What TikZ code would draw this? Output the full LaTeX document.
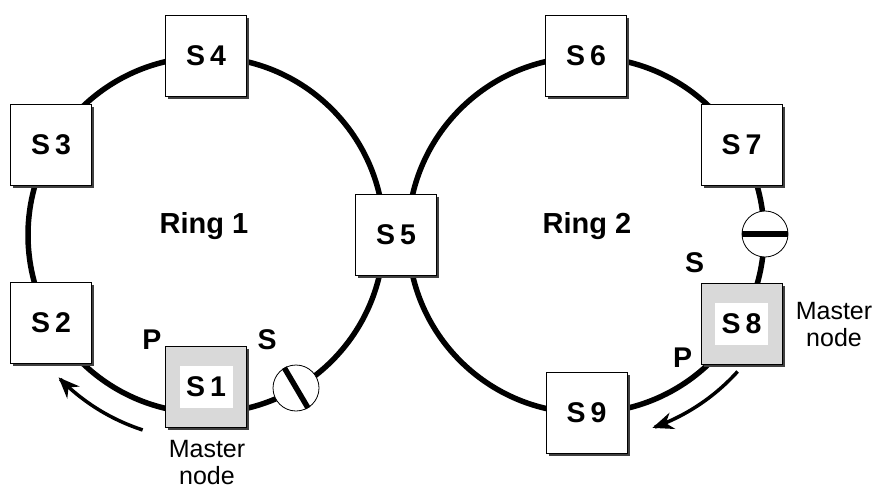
\documentclass[tikz,border=0pt]{standalone}
\usepackage{fontspec}
\setmainfont{Liberation Sans}
\usetikzlibrary{shadows,arrows.meta}
\begin{document}
\begin{tikzpicture}[x=1pt,y=-1pt,
  ring/.style={line width=5.5pt},
  swbox/.style={draw=black, line width=0.8pt, fill=white, minimum width=81pt, minimum height=81pt, inner sep=0pt,
    font=\fontsize{28.5}{30}\selectfont\bfseries,
    drop shadow={shadow xshift=2.5pt, shadow yshift=-2.5pt, fill=black!75, opacity=1}},
  masterbox/.style={swbox, fill=black!15},
  masterlabel/.style={fill=white, minimum width=53pt, minimum height=42pt, inner sep=0pt, font=\fontsize{28.5}{30}\selectfont\bfseries},
  portlabel/.style={font=\fontsize{28.5}{30}\selectfont\bfseries, inner sep=0pt},
  ringlabel/.style={font=\fontsize{29}{32}\selectfont\bfseries, inner sep=0pt},
  note/.style={font=\fontsize{25}{27}\selectfont, align=center, inner sep=0pt},
  blocker/.style={circle, draw=black, line width=0.8pt, fill=white, minimum size=46pt, inner sep=0pt},
  bar/.style={line width=5.5pt},
  flow/.style={line width=3.5pt, -{Stealth[length=21pt,width=17pt]}}
]
\useasboundingbox (0,0) rectangle (877,489);
% rings
\coordinate (c1) at (206,235);
\coordinate (c2) at (586,235);
\draw[ring] (c1) circle[radius=178pt];
\draw[ring] (c2) circle[radius=178pt];
% blocked ports
\node[blocker] (b1) at (296,388) {};
\draw[bar] (b1.120.5) -- (b1.-59.5);
\node[blocker] (b2) at (765,234) {};
\draw[bar] (b2.west) -- (b2.east);
% direction arrows
\draw[flow] plot[domain=108:136, samples=40] ({206+205*cos(\x)},{235+205*sin(\x)});
\draw[flow] plot[domain=42:71, samples=40] ({586+204*cos(\x)},{235+204*sin(\x)});
% switches
\node[swbox] (s4) at (206,56) {S\kern5pt4};
\node[swbox] (s3) at (51,145) {S\kern5pt3};
\node[swbox] (s2) at (51,323) {S\kern5pt2};
\node[masterbox] (s1) at (206,387) {};
\node[masterlabel] (s1t) at (s1.center) {S\kern5pt1};
\node[swbox] (s5) at (396,234.5) {S\kern5pt5};
\node[swbox] (s6) at (586,56) {S\kern5pt6};
\node[swbox] (s7) at (741.5,145) {S\kern5pt7};
\node[masterbox] (s8) at (741.5,323.5) {};
\node[masterlabel] (s8t) at (s8.center) {S\kern5pt8};
\node[swbox] (s9) at (586.5,413) {S\kern5pt9};
% labels
\node[ringlabel, anchor=base] (r1) at (204,233) {Ring 1};
\node[ringlabel, anchor=base] (r2) at (587,233) {Ring 2};
\node[portlabel] (p1) at (152,340) {P};
\node[portlabel] (q1) at (267,340) {S};
\node[portlabel] (q8) at (694.5,263) {S};
\node[portlabel] (p8) at (682.5,357.5) {P};
\node[note, anchor=north] (m1) at (207,440) {Master\\node};
\node[note, anchor=north] (m8) at (834,302) {Master\\node};
\end{tikzpicture}
\end{document}
